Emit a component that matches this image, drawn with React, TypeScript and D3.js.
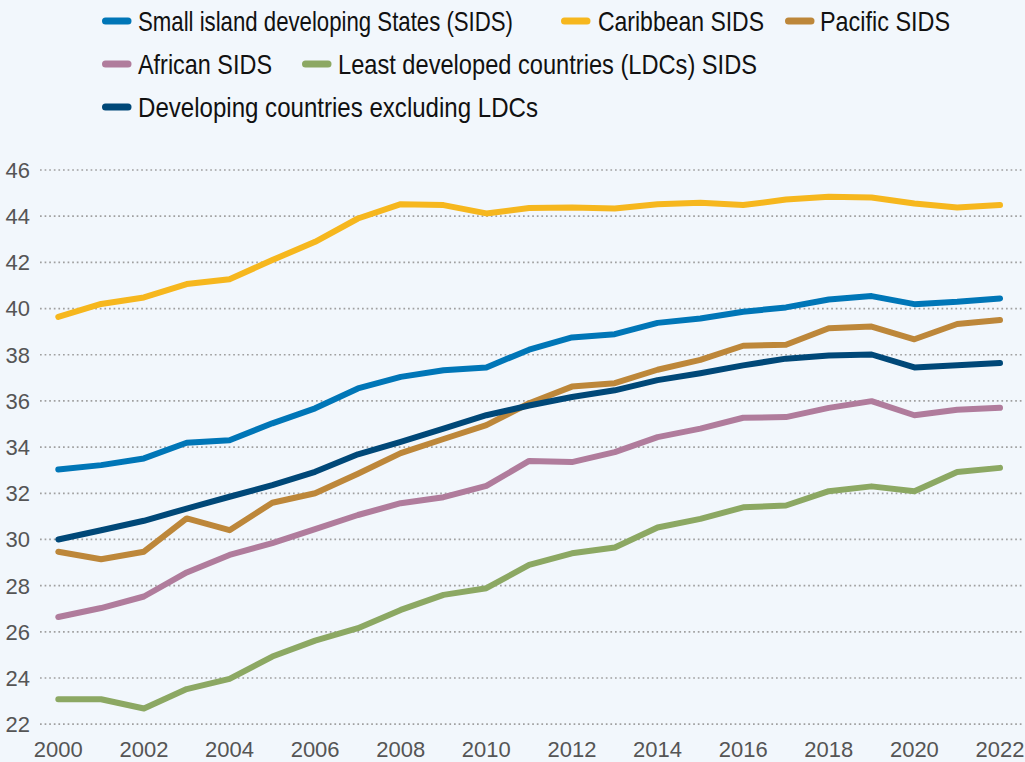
import React from "react";
import * as d3 from "d3";

const years = d3.range(2000, 2023);
const sids = [33.03, 33.22, 33.51, 34.19, 34.3, 35.03, 35.68, 36.54, 37.04, 37.33, 37.45, 38.22, 38.75, 38.89, 39.38, 39.57, 39.86, 40.05, 40.39, 40.54, 40.19, 40.29, 40.44];
const caribbean = [39.64, 40.2, 40.48, 41.06, 41.27, 42.1, 42.89, 43.9, 44.52, 44.48, 44.12, 44.35, 44.38, 44.33, 44.52, 44.58, 44.48, 44.72, 44.84, 44.81, 44.55, 44.38, 44.48];
const pacific = [29.47, 29.14, 29.47, 30.91, 30.4, 31.59, 32.0, 32.85, 33.74, 34.35, 34.95, 35.9, 36.62, 36.77, 37.35, 37.78, 38.39, 38.43, 39.15, 39.22, 38.67, 39.33, 39.5];
const african = [26.64, 27.03, 27.53, 28.57, 29.33, 29.84, 30.45, 31.06, 31.57, 31.83, 32.32, 33.4, 33.35, 33.78, 34.43, 34.8, 35.27, 35.3, 35.7, 35.99, 35.38, 35.62, 35.7];
const ldc = [23.08, 23.08, 22.68, 23.52, 23.96, 24.93, 25.62, 26.16, 26.95, 27.6, 27.89, 28.9, 29.4, 29.65, 30.52, 30.89, 31.39, 31.47, 32.09, 32.3, 32.09, 32.92, 33.1];
const developing = [30.0, 30.4, 30.81, 31.34, 31.85, 32.35, 32.93, 33.69, 34.23, 34.8, 35.38, 35.8, 36.17, 36.46, 36.9, 37.2, 37.54, 37.83, 37.97, 38.01, 37.45, 37.54, 37.64];

const yTicks = [22, 24, 26, 28, 30, 32, 34, 36, 38, 40, 42, 44, 46];
const xTicks = [2000, 2002, 2004, 2006, 2008, 2010, 2012, 2014, 2016, 2018, 2020, 2022];

const seriesNames = [
  "Small island developing States (SIDS)",
  "Caribbean SIDS",
  "Pacific SIDS",
  "African SIDS",
  "Least developed countries (LDCs) SIDS",
  "Developing countries excluding LDCs",
];
const seriesValues = [sids, caribbean, pacific, african, ldc, developing];
const colors = ["#0076B7", "#F6B71E", "#BD873A", "#B07C9C", "#8CA863", "#004878"];

// legend layout: [swatchX, textX, y, textWidth]
const legendLayout = [
  [102, 138, 21, 375],
  [561, 598, 21, 166],
  [785, 820, 21, 130],
  [102, 138, 64, 134],
  [302, 338, 64, 419],
  [102, 138, 107, 400],
];

const W = 1025;
const H = 762;
const FONT = "'Liberation Sans Narrow', 'Arial Narrow', sans-serif";

export default function App() {
  const x = d3.scaleLinear().domain([2000, 2022]).range([58.3, 1000]);
  const y = d3.scaleLinear().domain([22, 46]).range([724.2, 170]);
  const line = d3
    .line<number>()
    .x((_, i) => x(years[i]))
    .y((d) => y(d));

  return (
    <svg
      width={W}
      height={H}
      style={{ position: "absolute", left: 0, top: 0, display: "block" }}
    >
      <rect x={0} y={0} width={W} height={H} fill="#F2F7FC" />
      {yTicks.map((t) => (
        <g key={t}>
          <line
            x1={40}
            x2={1022}
            y1={y(t)}
            y2={y(t)}
            stroke="#a0a0a0"
            strokeWidth={1.7}
            strokeDasharray="1.7 2.9"
          />
          <text
            x={30}
            y={y(t)}
            dy="0.36em"
            textAnchor="end"
            fontFamily={FONT}
            fontSize={22}
            fill="#555"
          >
            {t}
          </text>
        </g>
      ))}
      {xTicks.map((t) => (
        <text
          key={t}
          x={x(t)}
          y={757}
          textAnchor="middle"
          fontFamily={FONT}
          fontSize={22}
          fill="#555"
        >
          {t}
        </text>
      ))}
      {seriesValues.map((vals, i) => (
        <path
          key={seriesNames[i]}
          d={line(vals) || ""}
          fill="none"
          stroke={colors[i]}
          strokeWidth={6}
          strokeLinejoin="round"
          strokeLinecap="round"
        />
      ))}
      {seriesNames.map((name, i) => {
        const [sx, tx, ly, tw] = legendLayout[i];
        return (
          <g key={name}>
            <line
              x1={sx + 3.5}
              x2={sx + 26}
              y1={ly}
              y2={ly}
              stroke={colors[i]}
              strokeWidth={7}
              strokeLinecap="round"
            />
            <text
              x={tx}
              y={ly}
              dy="0.36em"
              fontFamily={FONT}
              fontSize={28}
              fill="#111"
              textLength={tw}
              lengthAdjust="spacingAndGlyphs"
            >
              {name}
            </text>
          </g>
        );
      })}
    </svg>
  );
}
